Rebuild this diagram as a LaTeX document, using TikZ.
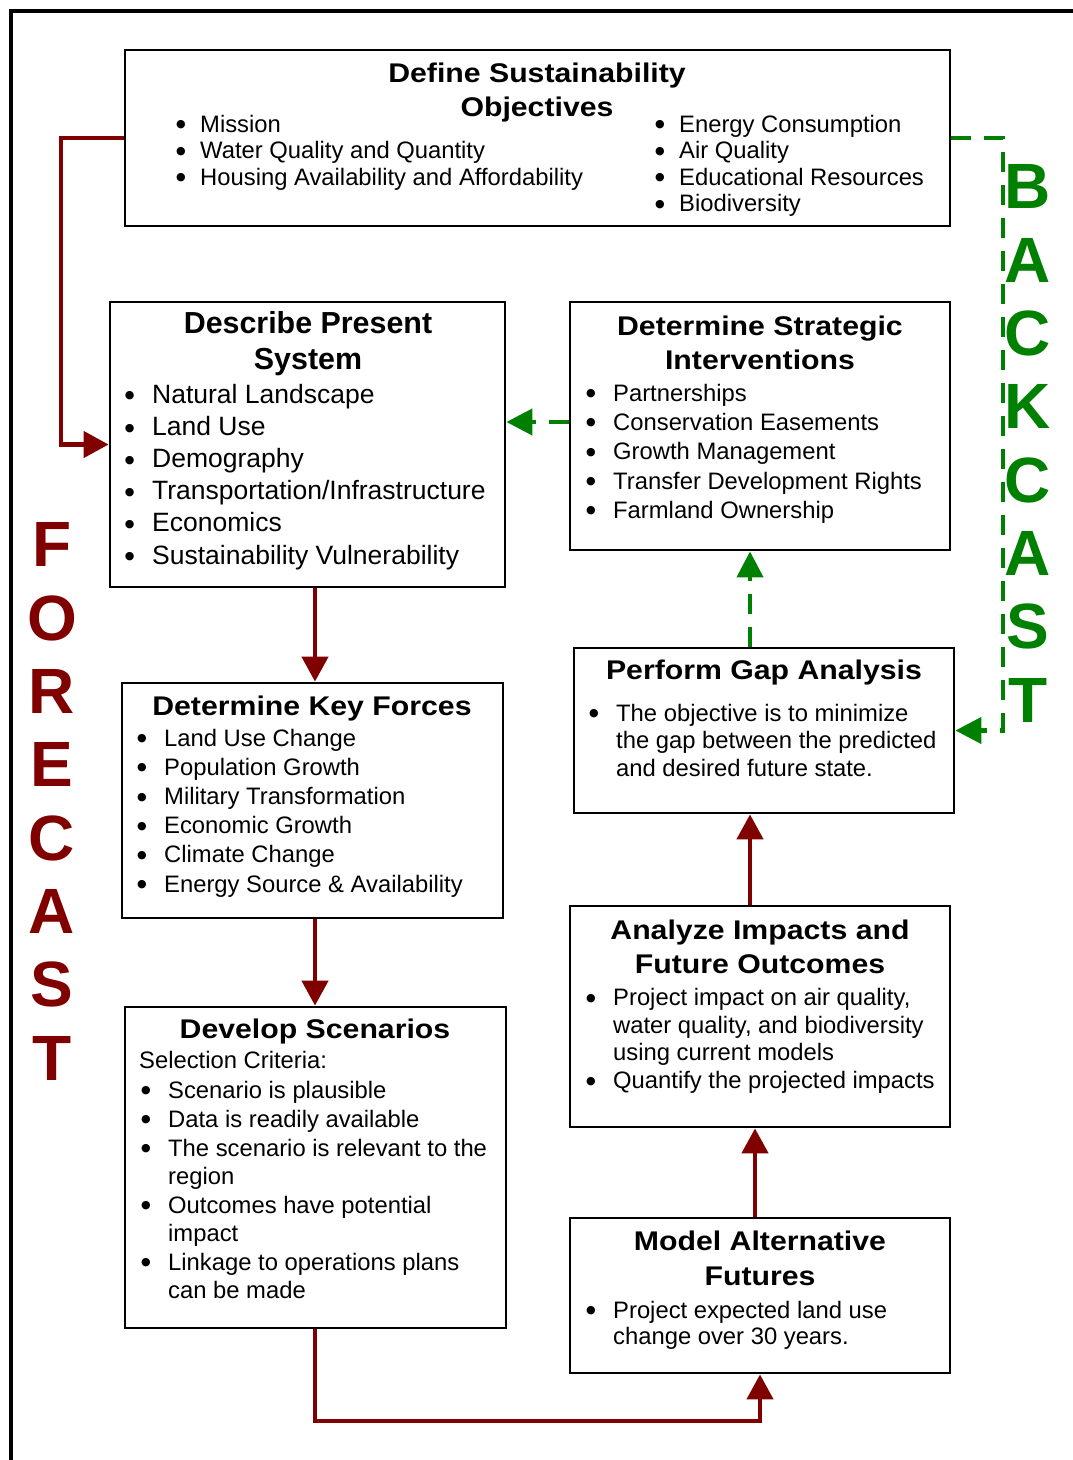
\documentclass[tikz,border=0pt]{standalone}
\usepackage{fontspec}
\setmainfont{Liberation Sans}
\newfontfamily\widesans[FakeStretch=1.12]{Liberation Sans}
\newfontfamily\dotfont{DejaVu Sans}
\usetikzlibrary{arrows.meta,fit}
\definecolor{fred}{RGB}{128,0,0}
\definecolor{bgreen}{RGB}{0,128,0}
% round bullet hung to the left of the item text
\newcommand\bl[2][27.2pt]{\llap{\makebox[#1][l]{\raisebox{0.17em}{\dotfont\fontsize{11}{11}\selectfont ●}}}#2}

\begin{document}
\begin{tikzpicture}[x=1pt,y=-1pt,
  stagebox/.style={draw, line width=2.8pt, inner sep=0pt, rectangle},
  ttl/.style={anchor=base, inner sep=0pt, font=\widesans\bfseries\fontsize{27}{32}\selectfont},
  ttlbig/.style={anchor=base, inner sep=0pt, font=\bfseries\fontsize{30.4}{36}\selectfont},
  itm/.style={anchor=base west, inner sep=0pt, font=\fontsize{23.8}{27}\selectfont},
  itmbig/.style={anchor=base west, inner sep=0pt, font=\fontsize{26.5}{32}\selectfont},
  sideword/.style={align=center, inner sep=0pt, font=\bfseries\fontsize{64}{73.3}\selectfont},
  redarr/.style={draw=fred, line width=4.5pt, -{Triangle[width=26pt,length=25pt]}},
  grnarr/.style={draw=bgreen, line width=4.3pt, dash pattern=on 20pt off 13pt,
                 -{Triangle[width=26pt,length=26pt]}},
]
\useasboundingbox (0,0) rectangle (1072,1460);

% outer frame (left and top edges)
\draw[line width=4.5pt] (11,1475) -- (11,11) -- (1085,11);

% stage boxes
\node[stagebox, fit={(125,50) (950,226)}] (def) {};
\node[stagebox, fit={(110,302) (505,587)}] (dps) {};
\node[stagebox, fit={(570,302) (950,550)}] (dsi) {};
\node[stagebox, fit={(122,683) (503,918)}] (dkf) {};
\node[stagebox, fit={(574,648) (954,813)}] (gap) {};
\node[stagebox, fit={(125,1007) (506,1328)}] (dsc) {};
\node[stagebox, fit={(570,906) (950,1127)}] (ana) {};
\node[stagebox, fit={(570,1218) (950,1373)}] (maf) {};

% Define Sustainability Objectives
\node[ttl] (def-t1) at (537,82) {Define Sustainability};
\node[ttl] (def-t2) at (537,116) {Objectives};
\node[itm] (def-a1) at (200,132) {\bl[24pt]{Mission}};
\node[itm] (def-a2) at (200,158.5) {\bl[24pt]{Water Quality and Quantity}};
\node[itm] (def-a3) at (200,185) {\bl[24pt]{Housing Availability and Affordability}};
\node[itm] (def-b1) at (679,132) {\bl[24pt]{Energy Consumption}};
\node[itm] (def-b2) at (679,158.5) {\bl[24pt]{Air Quality}};
\node[itm] (def-b3) at (679,185) {\bl[24pt]{Educational Resources}};
\node[itm] (def-b4) at (679,211.5) {\bl[24pt]{Biodiversity}};

% Describe Present System
\node[ttlbig] (dps-t1) at (308,333) {Describe Present};
\node[ttlbig] (dps-t2) at (308,369) {System};
\node[itmbig] (dps-1) at (152,403.3) {\bl[27.4pt]{Natural Landscape}};
\node[itmbig] (dps-2) at (152,435.5) {\bl[27.4pt]{Land Use}};
\node[itmbig] (dps-3) at (152,467.5) {\bl[27.4pt]{Demography}};
\node[itmbig] (dps-4) at (152,499.5) {\bl[27.4pt]{Transportation/Infrastructure}};
\node[itmbig] (dps-5) at (152,531.7) {\bl[27.4pt]{Economics}};
\node[itmbig] (dps-6) at (152,564) {\bl[27.4pt]{Sustainability Vulnerability}};

% Determine Strategic Interventions
\node[ttl] (dsi-t1) at (760,335) {Determine Strategic};
\node[ttl] (dsi-t2) at (760,369.5) {Interventions};
\node[itm] (dsi-1) at (613,401) {\bl{Partnerships}};
\node[itm] (dsi-2) at (613,430) {\bl{Conservation Easements}};
\node[itm] (dsi-3) at (613,459.5) {\bl{Growth Management}};
\node[itm] (dsi-4) at (613,489) {\bl{Transfer Development Rights}};
\node[itm] (dsi-5) at (613,518) {\bl{Farmland Ownership}};

% Determine Key Forces
\node[ttl] (dkf-t1) at (312,715) {Determine Key Forces};
\node[itm] (dkf-1) at (164,746) {\bl{Land Use Change}};
\node[itm] (dkf-2) at (164,775) {\bl{Population Growth}};
\node[itm] (dkf-3) at (164,804.3) {\bl{Military Transformation}};
\node[itm] (dkf-4) at (164,833.5) {\bl{Economic Growth}};
\node[itm] (dkf-5) at (164,862.7) {\bl{Climate Change}};
\node[itm] (dkf-6) at (164,892) {\bl{Energy Source \& Availability}};

% Perform Gap Analysis
\node[ttl] (gap-t1) at (764,679) {Perform Gap Analysis};
\node[itm] (gap-1) at (616,721) {\bl{The objective is to minimize}};
\node[itm] (gap-2) at (616,748.5) {the gap between the predicted};
\node[itm] (gap-3) at (616,776) {and desired future state.};

% Analyze Impacts and Future Outcomes
\node[ttl] (ana-t1) at (760,939.5) {Analyze Impacts and};
\node[ttl] (ana-t2) at (760,973.5) {Future Outcomes};
\node[itm] (ana-1) at (613,1005.5) {\bl{Project impact on air quality,}};
\node[itm] (ana-2) at (613,1033) {water quality, and biodiversity};
\node[itm] (ana-3) at (613,1060.5) {using current models};
\node[itm] (ana-4) at (613,1088.5) {\bl{Quantify the projected impacts}};

% Develop Scenarios
\node[ttl] (dsc-t1) at (315,1038.5) {Develop Scenarios};
\node[itm] (dsc-0) at (139,1068.5) {Selection Criteria:};
\node[itm] (dsc-1) at (168,1098) {\bl{Scenario is plausible}};
\node[itm] (dsc-2) at (168,1127) {\bl{Data is readily available}};
\node[itm] (dsc-3) at (168,1156) {\bl{The scenario is relevant to the}};
\node[itm] (dsc-4) at (168,1184) {region};
\node[itm] (dsc-5) at (168,1213) {\bl{Outcomes have potential}};
\node[itm] (dsc-6) at (168,1241) {impact};
\node[itm] (dsc-7) at (168,1270) {\bl{Linkage to operations plans}};
\node[itm] (dsc-8) at (168,1298) {can be made};

% Model Alternative Futures
\node[ttl] (maf-t1) at (760,1250) {Model Alternative};
\node[ttl] (maf-t2) at (760,1285) {Futures};
\node[itm] (maf-1) at (613,1318) {\bl{Project expected land use}};
\node[itm] (maf-2) at (613,1344) {change over 30 years.};

% side labels
\node[sideword, text=fred] (forecast) at (52,801.5) {F\\O\\R\\E\\C\\A\\S\\T};
\node[sideword, text=bgreen] (backcast) at (1028,443.5) {B\\A\\C\\K\\C\\A\\S\\T};

% forecast chain
\coordinate (fx) at (61,0);
\coordinate (sp) at (315,0);
\coordinate (lowy) at (0,1421);
\coordinate (rx1) at (755,0);
\coordinate (rx2) at (750,0);
\draw[redarr] (def.west) -- (def.west -| fx) -- (dps.west -| fx) -- (dps.west);
\draw[redarr] (dps.south -| sp) -- (dkf.north -| sp);
\draw[redarr] (dkf.south -| sp) -- (dsc.north -| sp);
\draw[redarr] (dsc.south -| sp) -- (lowy -| sp) -- (lowy -| maf.south) -- (maf.south);
\draw[redarr] (maf.north -| rx1) -- (ana.south -| rx1);
\draw[redarr] (ana.north -| rx2) -- (gap.south -| rx2);

% backcast chain
\coordinate (gy) at (0,422);
\coordinate (gx) at (1003,0);
\draw[grnarr] (gap.north -| rx2) -- (dsi.south -| rx2);
\draw[grnarr] (dsi.west |- gy) -- (dps.east |- gy);
\draw[grnarr] (def.east) -- (def.east -| gx) -- (gap.east -| gx) -- (gap.east);
\end{tikzpicture}
\end{document}
